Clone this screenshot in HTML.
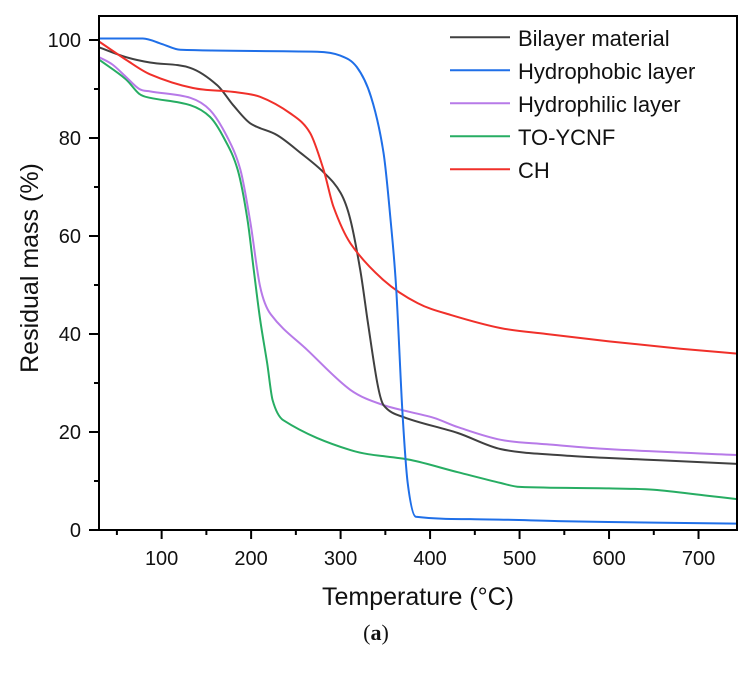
<!DOCTYPE html>
<html><head><meta charset="utf-8"><style>
body{margin:0;background:#fff;}
svg text{font-family:"Liberation Sans",sans-serif;fill:#111;}
</style></head><body>
<svg id="chart" width="753" height="669" xmlns="http://www.w3.org/2000/svg">
<g id="plot"></g>
</svg>
<script>
const tempBilayer=[30,60,87,132,162,180,199,229,255,281,300,311,322,330,341,348,371,431,479,550,600,660,743];
const massBilayer=[98.5,96.5,95.4,94.3,90.8,86.7,83,80.6,77,73,68.8,63.3,53,43,30,25.5,23,19.8,16.5,15.2,14.7,14.2,13.5];
const tempPhobic=[30,79,100,121,274,300,318,334,348,356,362,369,375,384,450,550,650,743];
const massPhobic=[100.3,100.3,99.2,98,97.6,96.8,94.5,88.4,77,63,49.6,24.5,9.6,2.7,2.2,1.8,1.5,1.3];
const tempPhilic=[30,45,60,75,87,132,154,173,188,199,210,222,263,311,348,404,431,479,530,600,743];
const massPhilic=[96.5,95,92.5,90,89.5,88.2,85.7,80.3,73.5,63,49.7,44,36.7,28.6,25.5,22.9,21,18.4,17.5,16.5,15.3];
const tempYCNF=[30,60,75,87,132,154,169,185,196,203,210,218,224,236,311,378,431,479,500,600,650,710,743];
const massYCNF=[96,92,89,88.2,86.7,84.3,80.2,73.5,63.3,53,43,34,26.5,22.4,16.3,14.3,11.8,9.6,8.8,8.5,8.2,7,6.3];
const tempCH=[30,60,87,135,180,210,244,266,281,292,311,348,386,423,479,530,600,680,743];
const massCH=[99.7,96,93,90.2,89.4,88.4,85,81,73.5,66,58.5,51,46.3,43.9,41.2,40,38.5,37,36];
const seriesNames=["Bilayer material","Hydrophobic layer","Hydrophilic layer","TO-YCNF","CH"];
const xTicks=[100,200,300,400,500,600,700];
const yTicks=[0,20,40,60,80,100];

const L=99,R=737,T=16,B=530;
const x=v=>L+(v-30)*(R-L)/(743-30);
const y=v=>B-v*4.9;
const NS="http://www.w3.org/2000/svg";
const g=document.getElementById('plot');
function mk(t,a,p){const e=document.createElementNS(NS,t);for(const k in a)e.setAttribute(k,a[k]);(p||g).appendChild(e);return e;}

function path(xs,ys){
  const P=xs.map((v,i)=>[x(v),y(ys[i])]);
  const n=P.length,d=[],m=[];
  for(let i=0;i<n-1;i++)d.push((P[i+1][1]-P[i][1])/(P[i+1][0]-P[i][0]));
  m[0]=d[0];m[n-1]=d[n-2];
  for(let i=1;i<n-1;i++){
    if(d[i-1]*d[i]<=0){m[i]=0;continue;}
    m[i]=(P[i+1][1]-P[i-1][1])/(P[i+1][0]-P[i-1][0]);
  }
  for(let i=0;i<n-1;i++){
    if(d[i]===0){m[i]=0;m[i+1]=0;continue;}
    const a=m[i]/d[i],b=m[i+1]/d[i],s=a*a+b*b;
    if(s>9){const t=3/Math.sqrt(s);m[i]=t*a*d[i];m[i+1]=t*b*d[i];}
  }
  let s="M"+P[0][0].toFixed(1)+","+P[0][1].toFixed(1);
  for(let i=0;i<n-1;i++){
    const h=(P[i+1][0]-P[i][0])/3;
    s+=` C${(P[i][0]+h).toFixed(1)},${(P[i][1]+m[i]*h).toFixed(1)} ${(P[i+1][0]-h).toFixed(1)},${(P[i+1][1]-m[i+1]*h).toFixed(1)} ${P[i+1][0].toFixed(1)},${P[i+1][1].toFixed(1)}`;
  }
  return s;
}
const data=[[tempBilayer,massBilayer,"#404040","series-bilayer"],[tempPhobic,massPhobic,"#1f6fe8","series-hydrophobic"],[tempPhilic,massPhilic,"#b77ae8","series-hydrophilic"],[tempYCNF,massYCNF,"#27ad63","series-to-ycnf"],[tempCH,massCH,"#f0302a","series-ch"]];
const order=[3,2,0,4,1];
order.forEach(i=>{const s=data[i];
  const p=mk('path',{d:path(s[0],s[1]),fill:'none',stroke:s[2],'stroke-width':2});
  
  
});
const fr=mk('rect',{x:L,y:T,width:R-L,height:B-T,fill:'none',stroke:'#000','stroke-width':2});


xTicks.forEach(v=>{
  mk('line',{x1:x(v),x2:x(v),y1:B,y2:B+9,stroke:'#000','stroke-width':2});
  const t=mk('text',{x:x(v),y:565,'text-anchor':'middle','font-size':20});t.textContent=v;
  
  
});
xTicks.forEach(v=>{const m=v-50;if(m>30)mk('line',{x1:x(m),x2:x(m),y1:B,y2:B+5,stroke:'#000','stroke-width':2});});
yTicks.forEach(v=>{
  mk('line',{x1:L-10,x2:L,y1:y(v),y2:y(v),stroke:'#000','stroke-width':2});
  if(v<100)mk('line',{x1:L-5,x2:L,y1:y(v+10),y2:y(v+10),stroke:'#000','stroke-width':2});
  const t=mk('text',{x:81,y:y(v)+7,'text-anchor':'end','font-size':20});t.textContent=v;
  
  
});
const xt=mk('text',{x:418,y:605,'text-anchor':'middle','font-size':25});xt.textContent="Temperature (°C)";


const yt=mk('text',{x:0,y:0,'text-anchor':'middle','font-size':25,transform:'translate(38,268) rotate(-90)'});yt.textContent="Residual mass (%)";


const cap=mk('text',{x:376,y:640,'text-anchor':'middle','font-size':22,style:'font-family:"Liberation Serif",serif'});
cap.innerHTML='(<tspan font-weight="bold">a</tspan>)';


seriesNames.forEach((n,i)=>{
  const yy=37.3+i*33;
  const ln=mk('line',{x1:450,x2:510,y1:yy,y2:yy,stroke:data[i][2],'stroke-width':2});
  
  
  const t=mk('text',{x:518,y:yy+8.5,'font-size':22});t.textContent=n;
  
  
});
</script>
</body></html>
